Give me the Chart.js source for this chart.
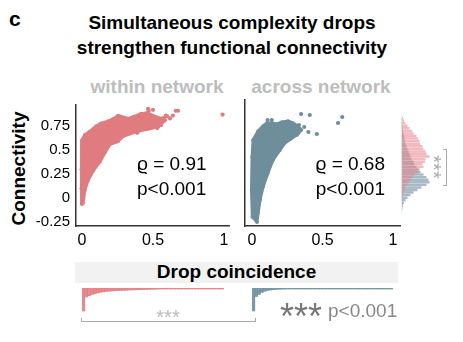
<!DOCTYPE html>
<html>
<head>
<meta charset="utf-8">
<script src="https://cdn.jsdelivr.net/npm/chart.js@4.4.1/dist/chart.umd.min.js"></script>
<style>
  body { margin: 0; background: #fff; }
  #fig { position: relative; width: 463px; height: 342px; overflow: hidden; font-family: "Liberation Sans", Arial, sans-serif; }
  #fig canvas, #fig .t { position: absolute; }
  .t { white-space: nowrap; line-height: 1; }
  .c { text-align: center; }
</style>
</head>
<body>
<div id="fig">
  <div class="t" style="left:9px;top:8px;font-weight:bold;font-size:21px;">c</div>
  <div class="t c" style="left:32px;width:400px;top:13px;font-weight:bold;font-size:19px;">Simultaneous complexity drops</div>
  <div class="t c" style="left:32px;width:400px;top:38px;font-weight:bold;font-size:19px;">strengthen functional connectivity</div>
  <div class="t c" style="left:57px;width:200px;top:77px;font-weight:bold;font-size:19px;color:#bdbdbd;">within network</div>
  <div class="t c" style="left:221px;width:200px;top:77px;font-weight:bold;font-size:19px;color:#bdbdbd;">across network</div>
  <div class="t c" style="left:-41.6px;width:120px;top:158.5px;height:19px;font-weight:bold;font-size:19px;transform:rotate(-90deg);">Connectivity</div>

  <canvas id="scWithin" width="240" height="170" style="left:0;top:90px"></canvas>
  <canvas id="scAcross" width="165" height="170" style="left:240px;top:90px"></canvas>
  <canvas id="histConn" width="40" height="170" style="left:398px;top:90px"></canvas>

  <div class="t" style="left:137px;top:154px;font-size:19px;">&#x3F1; = 0.91</div>
  <div class="t" style="left:137px;top:179px;font-size:19px;">p&lt;0.001</div>
  <div class="t" style="left:185px;width:200px;text-align:right;top:154px;font-size:19px;">&#x3F1; = 0.68</div>
  <div class="t" style="left:185px;width:200px;text-align:right;top:179px;font-size:19px;">p&lt;0.001</div>

  <!-- bracket + stars between the two marginal distributions -->
  <div style="position:absolute;left:443px;top:149px;width:3px;height:35px;border:1.5px solid #aaa;border-left:none;"></div>
  <div class="t c" style="left:413.5px;width:40px;top:157px;height:20px;font-size:20px;color:#aaa;transform:rotate(90deg);">***</div>

  <div class="t c" style="left:75px;top:262px;width:323px;height:21px;line-height:20px;background:#f2f2f2;font-weight:bold;font-size:19px;">Drop coincidence</div>
  <canvas id="dropWithin" width="142" height="32" style="left:82px;top:284px"></canvas>
  <canvas id="dropAcross" width="141" height="32" style="left:252px;top:284px"></canvas>

  <div style="position:absolute;left:81px;top:318px;width:173px;height:3px;border:1.5px solid #aaa;border-top:none;"></div>
  <div class="t c" style="left:128px;width:80px;top:307px;font-size:20px;color:#bbb;">***</div>
  <div class="t" style="left:280px;top:299px;font-size:36px;color:#777;">***</div>
  <div class="t" style="left:328px;top:301px;font-size:19px;color:#888;">p&lt;0.001</div>
</div>

<script>
// axes
const xTicks = [0, 0.5, 1];
const yTicks = [-0.25, 0, 0.25, 0.5, 0.75];

// outline of the dense point cloud + the loose points around it
const withinCloud = [
  [0.0, -0.06], [-0.005, 0.1], [-0.005, 0.3], [-0.002, 0.45], [0.0, 0.6], [0.02, 0.66], [0.05, 0.69],
  [0.1, 0.75], [0.134, 0.78], [0.18, 0.8], [0.225, 0.83], [0.254, 0.86], [0.3, 0.84], [0.33, 0.83],
  [0.366, 0.85], [0.415, 0.88], [0.46, 0.89], [0.5, 0.86], [0.556, 0.83], [0.58, 0.84], [0.585, 0.81],
  [0.535, 0.74], [0.465, 0.72], [0.38, 0.69], [0.29, 0.645], [0.254, 0.59], [0.197, 0.56],
  [0.165, 0.48], [0.127, 0.38], [0.077, 0.28], [0.042, 0.18], [0.02, 0.08], [0.008, -0.05], [0.0, -0.06]
];
const withinDots = [
  [0.465, 0.93], [0.5, 0.92], [0.47, 0.91], [0.66, 0.91], [0.676, 0.91], [0.99, 0.87], [0.64, 0.86],
  [0.59, 0.86], [0.57, 0.83], [0.53, 0.81], [0.5, 0.78], [0.45, 0.76], [0.415, 0.72], [0.39, 0.68],
  [0.556, 0.76], [0.53, 0.73], [0.62, 0.83], [0.6, 0.85]
];
const acrossCloud = [
  [0.035, -0.25], [0.002, -0.2], [-0.004, 0.07], [0.0, 0.4], [0.007, 0.57], [0.043, 0.66], [0.078, 0.71],
  [0.106, 0.74], [0.142, 0.74], [0.177, 0.73], [0.213, 0.75], [0.255, 0.76], [0.29, 0.74], [0.326, 0.71],
  [0.35, 0.67], [0.319, 0.62], [0.284, 0.59], [0.234, 0.54], [0.199, 0.47], [0.149, 0.37], [0.113, 0.24],
  [0.078, 0.1], [0.057, -0.03], [0.043, -0.16], [0.035, -0.25]
];
const acrossDots = [
  [0.348, 0.83], [0.41, 0.82], [0.333, 0.72], [0.4, 0.65], [0.46, 0.63], [0.61, 0.74], [0.64, 0.8],
  [0.27, 0.58], [0.326, 0.64], [0.11, 0.77], [0.14, 0.77], [0.37, 0.7]
];

// marginal connectivity distributions (bin centre, bar length)
const connBins = [
  0.895, 0.865, 0.835, 0.805, 0.775, 0.745, 0.715, 0.685, 0.655, 0.625, 0.595, 0.565, 0.535,
  0.505, 0.475, 0.445, 0.415, 0.385, 0.355, 0.325, 0.295, 0.265, 0.235, 0.205, 0.175, 0.145,
  0.115, 0.085, 0.055, 0.025, -0.005, -0.035, -0.065, -0.095, -0.125, -0.155, -0.185, -0.215, -0.245
];
const withinConn = [
  0.5, 1.5, 2.5, 4, 6, 8, 10.5, 12, 15, 16.5, 18, 18.5, 21, 22, 24, 25, 28, 24, 23.5, 21,
  22, 18, 16, 13, 11, 9, 7, 5, 4, 3, 2, 1.5, 1, 0.5, 0.3, 0, 0, 0, 0
];
const acrossConn = [
  0, 0, 0.3, 0.5, 0.8, 1, 1.5, 2, 2.5, 3, 3.5, 4, 5, 6, 7, 8, 9, 10, 12, 13,
  15, 17, 19, 22, 25, 27, 28, 25, 20, 16, 12, 9, 6, 4, 2.5, 1.5, 1, 0.6, 0.3
];

// drop coincidence distributions, bins of 0.02 from 0 to 1
const dropBins = [
  '0.01', '0.03', '0.05', '0.07', '0.09', '0.11', '0.13', '0.15', '0.17', '0.19', '0.21', '0.23', '0.25',
  '0.27', '0.29', '0.31', '0.33', '0.35', '0.37', '0.39', '0.41', '0.43', '0.45', '0.47', '0.49', '0.51',
  '0.53', '0.55', '0.57', '0.59', '0.61', '0.63', '0.65', '0.67', '0.69', '0.71', '0.73', '0.75', '0.77',
  '0.79', '0.81', '0.83', '0.85', '0.87', '0.89', '0.91', '0.93', '0.95', '0.97', '0.99'
];
const withinDrop = [
  23, 9, 7.7, 6.7, 5.8, 5, 4.4, 3.9, 3.5, 3.3, 3, 2.8, 2.7, 2.5, 2.4, 2.3, 2.15, 2, 1.9, 1.8,
  1.7, 1.6, 1.5, 1.4, 1.35, 1.3, 1.2, 1.1, 1.05, 1, 1, 1, 1, 1, 1, 1, 1, 1, 1, 1,
  1, 1, 1, 1, 1, 1, 1, 1, 1, 1
];
const acrossDrop = [
  23, 8.5, 6.5, 4.5, 3.3, 2.5, 2, 1.7, 1.5, 1.3, 1.2, 1.1, 1, 1, 1, 1, 1, 1, 1, 1,
  1, 1, 1, 1, 1, 1, 1, 1, 1, 1, 1, 1, 1, 1, 1, 1, 1, 1, 1, 1,
  1, 1, 1, 1, 1, 1, 1, 1, 1, 1
];

const pink = '#e07c80';
const blue = '#6e8e9b';

Chart.defaults.font.family = '"Liberation Sans", Arial, sans-serif';
Chart.defaults.color = '#000';

const xy = arr => arr.map(p => ({ x: p[0], y: p[1] }));
const noPlugins = { legend: { display: false }, tooltip: { enabled: false } };

function scatterChart(id, cloud, dots, color, showY, xMin, xMax, pad) {
  return new Chart(document.getElementById(id), {
    type: 'scatter',
    data: {
      datasets: [
        { data: xy(cloud), showLine: true, fill: 'shape', tension: 0,
          backgroundColor: color, borderColor: color, borderWidth: 3, borderJoinStyle: 'round',
          pointRadius: 1.8, pointBackgroundColor: color, pointBorderWidth: 0 },
        { data: xy(dots), pointRadius: 2.1, backgroundColor: color, pointBorderWidth: 0 }
      ]
    },
    options: {
      responsive: false, animation: false, devicePixelRatio: 1,
      layout: { padding: pad },
      plugins: noPlugins,
      scales: {
        x: {
          type: 'linear', min: xMin, max: xMax,
          afterBuildTicks: s => { s.ticks = xTicks.map(v => ({ value: v })); },
          afterFit: s => { s.height = 34; },
          ticks: { font: { size: 16 }, padding: 5, maxRotation: 0, callback: v => String(v) },
          grid: { display: false, drawTicks: false },
          border: { color: '#333', width: 1.5 }
        },
        y: {
          min: -0.29, max: 0.97,
          afterBuildTicks: s => { s.ticks = yTicks.map(v => ({ value: v })); },
          afterFit: s => { s.width = showY ? 76 : 0; },
          ticks: { display: showY, font: { size: 15 }, padding: 6, callback: v => String(v) },
          grid: { display: false, drawTicks: false },
          border: { color: '#333', width: 1.5 }
        }
      }
    }
  });
}

scatterChart('scWithin', withinCloud, withinDots, pink, true, -0.042, 1.035, { top: 10, right: 11 });
scatterChart('scAcross', acrossCloud, acrossDots, blue, false, -0.05, 1.05, { top: 10, left: 5, right: 5 });

// right-hand marginal histograms, same y range as the scatters
new Chart(document.getElementById('histConn'), {
  type: 'bar',
  data: {
    datasets: [
      { data: connBins.map((c, i) => ({ x: withinConn[i], y: c })), backgroundColor: 'rgba(232,128,136,0.55)' },
      { data: connBins.map((c, i) => ({ x: acrossConn[i], y: c })), backgroundColor: 'rgba(96,130,146,0.55)' }
    ]
  },
  options: {
    indexAxis: 'y', responsive: false, animation: false, devicePixelRatio: 1,
    layout: { padding: { top: 10, bottom: 34, left: 3.5, right: 7.5 } },
    plugins: noPlugins,
    datasets: { bar: { grouped: false, barPercentage: 0.95, categoryPercentage: 1, borderWidth: 0 } },
    scales: {
      x: { min: 0, max: 29, display: false },
      y: { type: 'linear', min: -0.29, max: 0.97, display: false }
    }
  }
});

// drop coincidence histograms, hanging down from the top
function dropChart(id, values, color) {
  return new Chart(document.getElementById(id), {
    type: 'bar',
    data: { labels: dropBins, datasets: [{ data: values, backgroundColor: color }] },
    options: {
      responsive: false, animation: false, devicePixelRatio: 1,
      layout: { padding: { top: 4, bottom: 4 } },
      plugins: noPlugins,
      datasets: { bar: { barPercentage: 1, categoryPercentage: 1, borderWidth: 0 } },
      scales: {
        x: { display: false },
        y: { min: 0, max: 24, reverse: true, display: false }
      }
    }
  });
}

dropChart('dropWithin', withinDrop, 'rgba(226,118,124,0.85)');
dropChart('dropAcross', acrossDrop, 'rgba(110,143,155,0.9)');
</script>
</body>
</html>
